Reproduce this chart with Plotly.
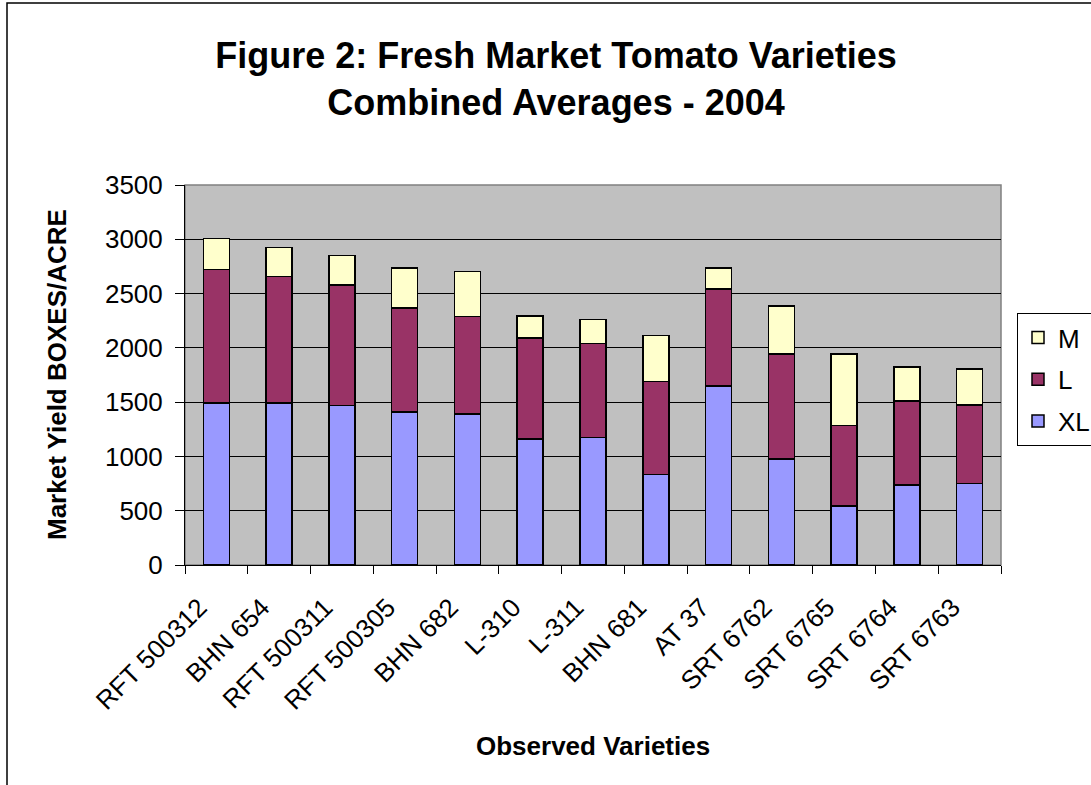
import plotly.graph_objects as go

varieties = ["RFT 500312", "BHN 654", "RFT 500311", "RFT 500305", "BHN 682", "L-310",
             "L-311", "BHN 681", "AT 37", "SRT 6762", "SRT 6765", "SRT 6764", "SRT 6763"]
xl_vals = [1490, 1490, 1470, 1410, 1390, 1160, 1175, 835, 1650, 975, 545, 735, 750]
l_vals = [1230, 1165, 1110, 955, 900, 930, 865, 855, 890, 970, 740, 775, 725]
m_vals = [285, 270, 270, 370, 415, 205, 220, 425, 195, 440, 660, 315, 330]
y_ticks = [0, 500, 1000, 1500, 2000, 2500, 3000, 3500]

FONT = "Liberation Sans, Arial, sans-serif"
W, H = 1091, 785
L, R, T, B = 185, 90, 185, 220
pw, ph = W - L - R, H - T - B

def px(xp):
    return (xp - L) / pw

def py(yp):
    return (H - B - yp) / ph

fig = go.Figure()
for name, vals, col, rank in [("XL", xl_vals, "#9999FF", 3), ("L", l_vals, "#993366", 2),
                              ("M", m_vals, "#FFFFCC", 1)]:
    fig.add_trace(go.Bar(x=varieties, y=vals, name=name, legendgroup=name, legendrank=rank,
                         marker=dict(color=col, line=dict(color="black", width=1.5))))

fig.update_layout(
    width=W, height=H, barmode="stack", bargap=0.586,
    margin=dict(l=L, r=R, t=T, b=B, autoexpand=False),
    paper_bgcolor="white", plot_bgcolor="#C0C0C0",
    font=dict(family=FONT, size=26, color="black"),
    title=dict(text="<b>Figure 2: Fresh Market Tomato Varieties<br>Combined Averages - 2004</b>",
               x=556 / W, xanchor="center", y=1 - 68 / H, yanchor="middle",
               font=dict(family=FONT, size=36, color="black")),
    showlegend=True,
    legend=dict(x=px(1017), y=py(313), xanchor="left", yanchor="top",
                traceorder="grouped", bordercolor="black", borderwidth=1,
                bgcolor="white", font=dict(family=FONT, size=26),
                itemwidth=30, tracegroupgap=5),
    xaxis=dict(showline=True, linecolor="black", linewidth=1, ticks="outside",
               tickson="boundaries", ticklen=8, tickcolor="black", tickangle=-45,
               tickfont=dict(family=FONT, size=26), showgrid=False,
               ticklabelshift=-17, ticklabelstandoff=16),
    yaxis=dict(range=[0, 3500], tickvals=y_ticks, showline=True, linecolor="black",
               linewidth=1, ticks="outside", ticklen=9, tickcolor="black",
               showgrid=True, gridcolor="black", gridwidth=1, zeroline=False,
               tickfont=dict(family=FONT, size=26), ticklabelstandoff=7),
    annotations=[
        dict(text="<b>Market Yield BOXES/ACRE</b>", xref="paper", yref="paper",
             x=px(57), y=py(375), xanchor="center", yanchor="middle",
             textangle=-90, showarrow=False, font=dict(family=FONT, size=26)),
        dict(text="<b>Observed Varieties</b>", xref="paper", yref="paper",
             x=px(593), y=py(746), xanchor="center", yanchor="middle",
             showarrow=False, font=dict(family=FONT, size=26)),
    ],
    shapes=[
        dict(type="rect", xref="paper", yref="paper", x0=0, x1=1, y0=0, y1=1,
             line=dict(color="#808080", width=1.5), layer="below"),
        dict(type="rect", xref="paper", yref="paper", x0=px(7), x1=px(1120),
             y0=py(3), y1=py(820), line=dict(color="black", width=1.5)),
    ],
)

fig.write_html("out.html", post_script="document.body.style.margin='0';",
               config={"displayModeBar": False})
